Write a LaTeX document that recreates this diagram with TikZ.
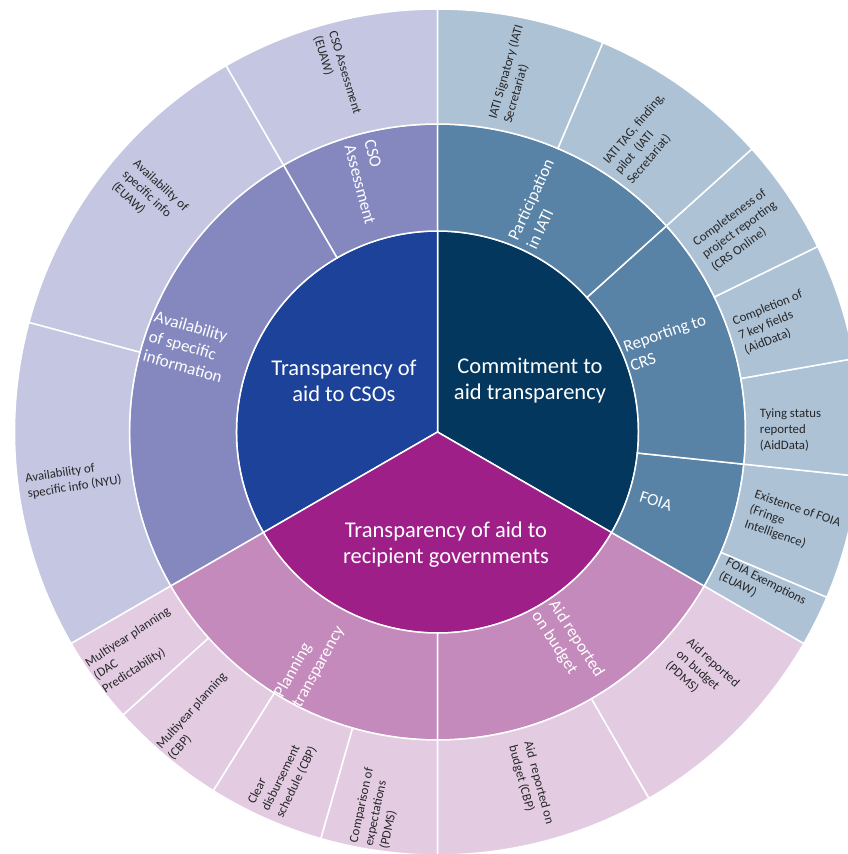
\documentclass[tikz,border=0pt]{standalone}
\usepackage{tikz}
\usepackage{fontspec}
\setmainfont{Carlito}

\definecolor{csodark}{HTML}{1D4299}
\definecolor{csomid}{HTML}{8488BF}
\definecolor{csolight}{HTML}{C5C7E2}
\definecolor{comdark}{HTML}{04375E}
\definecolor{commid}{HTML}{5882A6}
\definecolor{comlight}{HTML}{AEC2D6}
\definecolor{recdark}{HTML}{9E1F88}
\definecolor{recmid}{HTML}{C48ABC}
\definecolor{reclight}{HTML}{E3CCE2}

\tikzstyle{hub}=
[
	text=white
	, align=center
	, font=\fontsize{22.5}{26}\selectfont
]
\tikzstyle{midlabel}=
[
	text=white
	, align=left
	, font=\fontsize{17}{20.5}\selectfont
]
\tikzstyle{leaf}=
[
	text=black!85
	, align=left
	, font=\fontsize{12.8}{15.6}\selectfont
]
\tikzstyle{cut} = [draw=white, line width=1.5pt]

% pie slice: colour, start, end, radius
\newcommand{\piepart}[4]{\filldraw[cut, fill=#1] (0,0) -- (#2:#4) arc[start angle=#2, end angle=#3, radius=#4] -- cycle;}
% ring slice: colour, start, end, inner radius, outer radius
\newcommand{\ringpart}[5]{\filldraw[cut, fill=#1] (#2:#4) arc[start angle=#2, end angle=#3, radius=#4] -- (#3:#5) arc[start angle=#3, end angle=#2, radius=#5] -- cycle;}

\begin{document}
\begin{tikzpicture}[x=1pt, y=1pt]

\useasboundingbox (-437.5,-422) rectangle (410.5,432);
\clip (-437.5,-422) rectangle (410.5,432);

% inner ring
\piepart{comdark}{-30}{90}{201}
\piepart{csodark}{90}{210}{201}
\piepart{recdark}{210}{330}{201}

% middle ring
\foreach \a/\b/\c in {90/120/csomid, 120/210/csomid, 210/270/recmid, 270/330/recmid, -30/-6/commid, -6/42/commid, 42/90/commid}
{
	\ringpart{\c}{\a}{\b}{201}{308}
}

% outer ring
\foreach \a/\b/\c in {90/120/csolight, 120/165/csolight, 165/210/csolight,
	210/222/reclight, 222/238/reclight, 238/254/reclight, 254/270/reclight, 270/300/reclight, 300/330/reclight,
	-30/-23/comlight, -23/-6/comlight, -6/10/comlight, 10/26/comlight, 26/42/comlight, 42/67/comlight, 67/90/comlight}
{
	\ringpart{\c}{\a}{\b}{308}{423}
}

% centre labels
\node(csoin)[hub] at (-93.5,51) {Transparency of\\aid to CSOs};
\node(commitin)[hub] at (92.5,51) {Commitment to\\aid transparency};
\node(recipin)[hub] at (8.5,-112.5) {Transparency of aid to\\recipient governments};

% middle labels
\node(csoassess)[midlabel, rotate=-75] at (-67.5,250) {CSO\\Assessment};
\node(availinfo)[midlabel, rotate=-16] at (-249,85.3) {Availability\\of specific\\information};
\node(iati)[midlabel, rotate=65] at (102.5,228) {Participation\\in IATI};
\node(crs)[midlabel, rotate=19] at (230.5,89.5) {Reporting to\\CRS};
\node(foia)[midlabel, rotate=-18] at (218.5,-69) {FOIA};
\node(planning)[midlabel, rotate=61] at (-128,-230) {Planning\\transparency};
\node(aidbudget)[midlabel, rotate=-57] at (130,-212.5) {Aid reported\\on budget};

% outer labels
\node(csoeuaw)[leaf, rotate=-73] at (-100.5,357) {CSO Assessment\\(EUAW)};
\node(availeuaw)[leaf, rotate=-43] at (-287.5,235) {Availability of\\specific info\\(EUAW)};
\node(availnyu)[leaf, rotate=9] at (-364,-47.5) {Availability of\\specific info (NYU)};
\node(dacpred)[leaf, rotate=33] at (-301,-218.5) {Multiyear planning\\(DAC\\Predictability)};
\node(multicbp)[leaf, rotate=48] at (-240,-284) {Multiyear planning\\(CBP)};
\node(disburse)[leaf, rotate=64] at (-155,-343.5) {Clear\\disbursement\\schedule (CBP)};
\node(compare)[leaf, rotate=78] at (-60.5,-376.5) {Comparison of\\expectations\\(PDMS)};
\node(budgetcbp)[leaf, rotate=-75] at (93.5,-353) {Aid\ \ reported on\\budget (CBP)};
\node(budgetpdms)[leaf, rotate=-42] at (265,-242.5) {Aid reported\\on budget\\(PDMS)};
\node(foiaexempt)[leaf, rotate=-27] at (325,-156.5) {FOIA Exemptions\\(EUAW)};
\node(foiaexist)[leaf, rotate=-19] at (355,-92) {Existence of FOIA\\(Fringe\\Intelligence)};
\node(tying)[leaf] at (353,2) {Tying status\\reported\\(AidData)};
\node(keyfields)[leaf, rotate=22] at (336,109.5) {Completion of\\7 key fields\\(AidData)};
\node(completeness)[leaf, rotate=36] at (302,202) {Completeness of\\project reporting\\(CRS Online)};
\node(iatitag)[leaf, rotate=50] at (208.5,293) {IATI TAG, finding,\\pilot\ \ (IATI\\Secretariat)};
\node(iatisign)[leaf, rotate=74] at (76,358) {IATI Signatory (IATI\\Secretariat)};

\end{tikzpicture}
\end{document}
